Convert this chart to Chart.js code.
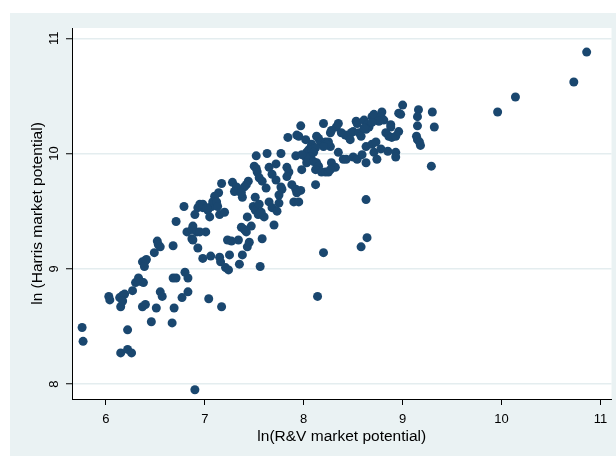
<!DOCTYPE html>
<html>
<head>
<meta charset="utf-8">
<script src="https://cdn.jsdelivr.net/npm/chart.js@4.4.1/dist/chart.umd.min.js"></script>
<style>
  html, body { margin: 0; padding: 0; background: #fff; }
  #wrap { width: 616px; height: 456px; }
</style>
</head>
<body>
<div id="wrap"><canvas id="scatter" width="616" height="456"></canvas></div>
<script>
const X_TICKS = [6, 7, 8, 9, 10, 11];
const Y_TICKS = [8, 9, 10, 11];

// ln(R&V market potential)
const RV = [
  5.76, 5.77, 6.15, 6.22, 6.26, 6.22, 6.03, 6.04, 6.14, 6.17, 6.19, 6.15, 6.17, 6.27, 6.30,
  6.33, 6.35, 6.38, 6.37, 6.40, 6.46, 6.51, 6.55, 6.57, 6.67, 6.69, 6.68, 6.71, 6.77, 6.80,
  6.83, 6.83, 6.90, 6.37, 6.40, 6.41, 6.39, 6.49, 6.52, 6.53, 6.55, 6.68, 7.04, 7.17,
  6.98, 7.06, 6.93, 7.15, 7.16, 7.21, 7.24, 7.25, 7.35, 7.38, 7.43, 7.45, 7.56, 7.58, 7.34,
  7.23, 7.27, 7.37, 7.40, 7.42, 7.47, 7.43, 7.49, 7.51, 7.70, 7.54, 7.60, 7.65, 7.68, 7.73,
  7.75, 7.90, 7.95, 7.15, 7.20, 7.07, 7.05, 7.01, 6.93, 6.95, 6.98, 7.03, 6.90, 6.79, 6.71,
  6.82, 6.87, 6.88, 6.92, 6.95, 6.87, 6.88, 8.20, 8.14, 8.58, 8.64, 8.63,
  7.97, 8.20, 7.84, 7.93, 7.95, 7.52, 7.63, 7.77, 7.92, 7.50, 7.52, 7.65, 7.72, 7.53, 7.55,
  7.58, 7.68, 7.72, 7.83, 7.85, 7.83, 7.62, 7.77, 7.78, 7.75, 7.88, 7.92, 7.97, 7.93, 7.51,
  7.55, 7.57, 7.44, 7.42, 7.40, 7.38, 7.28, 7.32, 7.35, 7.30, 7.37, 7.17, 7.14, 7.10, 7.08,
  7.12, 7.13, 6.98, 7.02,
  8.35, 8.33, 8.28, 8.27, 8.53, 8.54, 8.61, 8.64, 8.66, 8.63, 8.69, 8.71, 8.38, 8.42, 8.45,
  8.48, 8.50, 8.47, 8.56, 8.58, 8.13, 8.15, 8.17, 8.22, 8.25, 8.27, 8.23, 8.20, 8.08, 8.07,
  8.05, 8.03, 8.08, 8.12, 8.10, 8.07, 8.05, 8.02, 8.03, 8.10, 8.13, 8.15, 8.12, 7.98, 7.98,
  8.18, 8.22, 8.25, 8.12, 8.28, 8.32, 8.27, 8.35, 8.40, 8.43, 8.50, 8.54, 8.59, 8.63, 8.63,
  8.69, 8.73, 8.71, 8.02,
  9.00, 9.16, 9.15, 9.30, 9.32, 9.15, 9.14, 9.15, 9.17, 9.18, 9.29, 8.96, 8.98, 8.79, 8.78,
  8.81, 8.76, 8.69, 8.61, 8.88, 8.88, 8.83, 8.86, 8.89, 8.93, 8.96, 8.78, 8.85, 8.93, 8.93,
  8.74, 10.86, 10.73, 10.14, 9.96
];

// ln (Harris market potential)
const HARRIS = [
  8.49, 8.37, 8.27, 8.30, 8.27, 8.47, 8.76, 8.73, 8.75, 8.77, 8.78, 8.67, 8.72, 8.81, 8.88,
  8.92, 8.89, 8.88, 8.67, 8.69, 8.54, 8.66, 8.80, 8.76, 8.53, 8.66, 8.92, 8.92, 8.75, 8.97,
  8.92, 8.80, 7.95, 9.06, 9.07, 9.08, 9.02, 9.14, 9.24, 9.21, 9.19, 9.20, 8.74, 8.67,
  9.09, 9.11, 9.18, 9.10, 9.06, 9.01, 8.99, 9.12, 9.04, 9.12, 9.19, 9.23, 9.02, 9.26, 9.25,
  9.25, 9.24, 9.36, 9.34, 9.32, 9.37, 9.45, 9.54, 9.51, 9.38, 9.47, 9.45, 9.58, 9.53, 9.50,
  9.57, 9.58, 9.58, 9.47, 9.49, 9.54, 9.45, 9.32, 9.53, 9.56, 9.53, 9.51, 9.47, 9.54, 9.41,
  9.32, 9.34, 9.37, 9.32, 9.32, 9.26, 9.25, 9.14, 8.76, 9.19, 9.27, 9.60,
  10.24, 10.26, 10.14, 10.16, 10.15, 9.98, 10.00, 10.00, 9.98, 9.89, 9.87, 9.88, 9.91, 9.84, 9.79,
  9.76, 9.82, 9.77, 9.88, 9.84, 9.80, 9.70, 9.71, 9.69, 9.64, 9.73, 9.69, 9.68, 9.66, 9.62,
  9.56, 9.49, 9.76, 9.73, 9.71, 9.62, 9.75, 9.71, 9.67, 9.67, 9.66, 9.74, 9.66, 9.63, 9.58,
  9.58, 9.54, 9.56, 9.53,
  10.26, 10.23, 10.20, 10.18, 10.28, 10.26, 10.29, 10.25, 10.23, 10.21, 10.32, 10.34, 10.18, 10.16, 10.15,
  10.18, 10.19, 10.12, 10.18, 10.15, 10.15, 10.13, 10.10, 10.10, 10.10, 10.06, 10.08, 10.06, 10.08, 10.05,
  10.03, 10.01, 10.03, 10.05, 10.01, 9.97, 9.95, 9.97, 9.92, 9.93, 9.92, 9.89, 9.86, 9.99, 9.86,
  9.84, 9.84, 9.84, 9.73, 9.92, 9.88, 9.86, 10.01, 9.95, 9.95, 9.97, 9.95, 9.99, 9.92, 10.06,
  10.08, 10.10, 10.01, 10.12,
  10.42, 10.38, 10.32, 10.36, 10.23, 10.24, 10.15, 10.12, 10.10, 10.07, 9.89, 10.35, 10.34, 10.36, 10.32,
  10.29, 10.28, 10.27, 10.22, 10.25, 10.23, 10.18, 10.15, 10.14, 10.15, 10.19, 10.04, 10.02, 10.01, 9.97,
  9.95, 10.88, 10.62, 10.49, 10.36
];

const X_MIN = 5.658, X_MAX = 11.111;
const Y_MIN = 7.870, Y_MAX = 11.089;

const FONT = "'Liberation Sans', Arial, Helvetica, sans-serif";
const MARKER = '#1a476f';
const BG = '#eaf2f3';

const points = RV.map((x, i) => ({ x, y: HARRIS[i] }));

const backdrop = {
  id: 'backdrop',
  beforeDraw(chart) {
    const { ctx, chartArea: a } = chart;
    ctx.save();
    ctx.fillStyle = '#fff';
    ctx.fillRect(0, 0, chart.width, chart.height);
    ctx.fillStyle = BG;
    ctx.fillRect(10, 13, chart.width - 10, chart.height - 13);
    ctx.fillStyle = '#fff';
    ctx.fillRect(a.left, a.top, a.right - a.left, a.bottom - a.top);
    ctx.restore();
  }
};

new Chart(document.getElementById('scatter'), {
  type: 'scatter',
  data: {
    datasets: [{
      data: points,
      backgroundColor: MARKER,
      borderWidth: 0,
      pointRadius: 4.5,
      pointHoverRadius: 4.5,
    }],
  },
  options: {
    responsive: false,
    animation: false,
    devicePixelRatio: 1,
    layout: { padding: { top: 28, right: 2, left: 0, bottom: 0 } },
    plugins: {
      legend: { display: false },
      tooltip: { enabled: false },
    },
    scales: {
      x: {
        type: 'linear',
        min: X_MIN,
        max: X_MAX,
        afterBuildTicks: (s) => { s.ticks = X_TICKS.map((v) => ({ value: v })); },
        afterFit: (s) => { s.height = 57; },
        grid: { drawOnChartArea: false, tickLength: 6, tickColor: '#000' },
        border: { color: '#000', width: 1 },
        ticks: { color: '#000', padding: 7, font: { family: FONT, size: 13 }, maxRotation: 0 },
        title: {
          display: true,
          text: 'ln(R&V market potential)',
          color: '#000',
          font: { family: FONT, size: 15.5 },
          padding: { top: 0, bottom: 10 },
        },
      },
      y: {
        type: 'linear',
        min: Y_MIN,
        max: Y_MAX,
        afterBuildTicks: (s) => { s.ticks = Y_TICKS.map((v) => ({ value: v })); },
        afterFit: (s) => { s.width = 72; },
        grid: { color: '#e4edef', lineWidth: 1.5, tickLength: 6, tickColor: '#000', tickWidth: 1 },
        border: { color: '#000', width: 1 },
        ticks: {
          color: '#000', padding: 4, minRotation: 90, maxRotation: 90, crossAlign: 'center',
          font: { family: FONT, size: 13 },
        },
        title: {
          display: true,
          text: 'ln (Harris market potential)',
          color: '#000',
          font: { family: FONT, size: 15.5 },
          padding: { top: 28, bottom: 0 },
        },
      },
    },
  },
  plugins: [backdrop],
});
</script>
</body>
</html>
